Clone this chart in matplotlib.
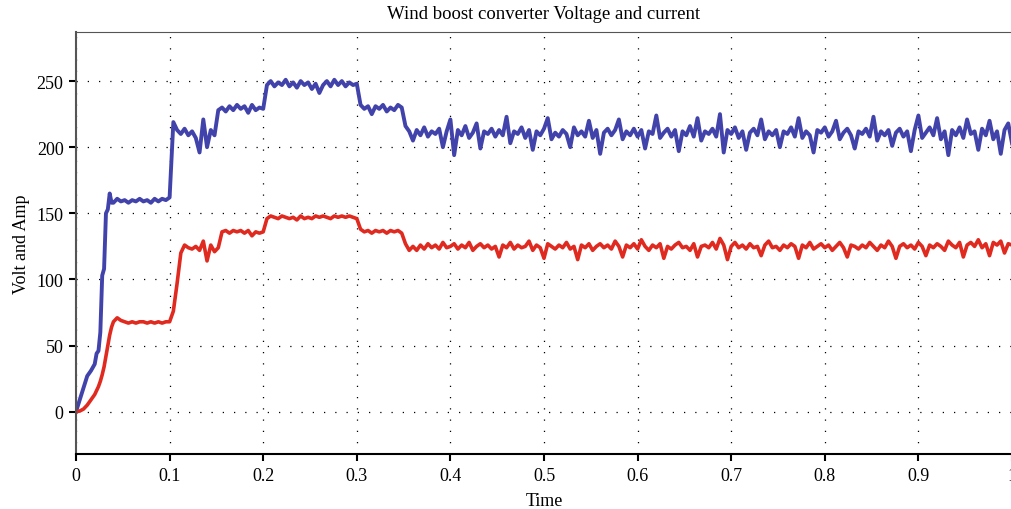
import numpy as np
import matplotlib
matplotlib.use('Agg')
import matplotlib.pyplot as plt

# start-up transient, sampled finely
t_start = [0, 0.004, 0.008, 0.012, 0.016, 0.020, 0.022, 0.024, 0.026, 0.028,
           0.030, 0.032, 0.034, 0.036, 0.038]
volt_start = [0, 9, 18, 27, 31, 36, 44, 46, 60, 103, 108, 150, 153, 165, 158]
amp_start = [0, 0.5, 2, 5, 9, 13, 16, 19, 23, 28, 34, 42, 50, 58, 64]

# 0.040 .. 0.356 every 0.004 (step changes)
volt_steps = [158, 161, 159, 160, 158, 160, 159, 161, 159, 160, 158, 161, 159, 161, 160,
              162, 219, 213, 210, 214, 209, 212, 207, 196, 221, 200, 213, 209,
              228, 230, 227, 231, 228, 232, 229, 231, 226, 232, 228, 230, 229,
              247, 250, 246, 249, 247, 251, 246, 249, 245, 250, 247, 249, 244, 248,
              241, 247, 250, 246, 251, 247, 250, 246, 249, 247, 248,
              232, 229, 231, 225, 231, 229, 232, 227, 230, 228, 232, 230, 216, 212]
amp_steps = [68, 71, 69, 68, 67, 68, 67, 68, 68, 67, 68, 67, 68, 67, 68,
             68, 76, 97, 120, 126, 124, 123, 125, 122, 129, 114, 126, 121,
             124, 136, 137, 135, 137, 136, 137, 135, 137, 133, 136, 135, 136,
             146, 148, 147, 146, 148, 147, 146, 147, 145, 148, 146, 147, 146, 148,
             147, 148, 147, 146, 148, 147, 148, 147, 148, 147, 146,
             138, 136, 137, 135, 137, 136, 137, 135, 137, 136, 137, 135, 127, 122]

# 0.360 .. 1.000 every 0.004 (steady state)
volt_steady = [205, 213, 209, 215, 208, 212, 210, 214, 200, 212,
               221, 194, 213, 209, 216, 207, 211, 218, 199, 212,
               210, 214, 208, 213, 209, 223, 203, 212, 210, 215,
               207, 213, 198, 212, 209, 214, 222, 206, 211, 208,
               213, 210, 200, 215, 209, 212, 208, 220, 207, 213,
               195, 211, 214, 209, 213, 221, 206, 212, 209, 214,
               208, 213, 199, 212, 210, 224, 207, 211, 214, 208,
               213, 197, 212, 209, 216, 208, 222, 205, 212, 210,
               214, 208, 225, 196, 213, 210, 215, 207, 212, 198,
               211, 214, 209, 221, 206, 212, 209, 213, 200, 212,
               210, 215, 208, 222, 207, 212, 209, 196, 213, 211,
               215, 208, 212, 220, 206, 211, 214, 209, 199, 212,
               210, 214, 208, 223, 205, 212, 209, 213, 201, 211,
               214, 208, 212, 197, 213, 224, 207, 211, 215, 209,
               222, 206, 212, 194, 213, 209, 215, 207, 221, 210,
               212, 198, 214, 209, 220, 206, 212, 195, 213, 218, 203]
amp_steady = [125, 122, 126, 123, 127, 124, 126, 123, 128, 124,
              125, 127, 123, 126, 124, 128, 122, 125, 127, 124,
              126, 123, 125, 117, 126, 124, 128, 123, 126, 124,
              125, 129, 122, 126, 124, 116, 127, 125, 123, 126,
              124, 128, 123, 125, 115, 126, 124, 127, 122, 125,
              127, 124, 126, 123, 129, 125, 117, 126, 124, 127,
              123, 130, 125, 122, 126, 124, 127, 116, 125, 123,
              126, 128, 124, 125, 122, 127, 117, 125, 126, 124,
              128, 123, 131, 126, 115, 125, 128, 124, 126, 123,
              127, 124, 125, 118, 126, 129, 124, 125, 122, 126,
              124, 127, 125, 116, 126, 124, 128, 123, 125, 127,
              124, 126, 122, 125, 128, 124, 117, 126, 125, 123,
              126, 124, 128, 125, 122, 126, 124, 129, 125, 116,
              125, 127, 124, 126, 123, 128, 125, 118, 126, 124,
              127, 125, 122, 129, 126, 124, 128, 117, 126, 128,
              125, 130, 124, 127, 118, 128, 126, 129, 120, 127, 126]

t_grid = 0.040 + 0.004 * np.arange(len(volt_steps) + len(volt_steady))
t = np.concatenate([t_start, t_grid])
volt = np.concatenate([volt_start, volt_steps, volt_steady])
amp = np.concatenate([amp_start, amp_steps, amp_steady])

plt.rcParams['font.family'] = ['Liberation Serif', 'DejaVu Serif']
fig = plt.figure(figsize=(10.12, 5.10), dpi=100)
ax = fig.add_axes([0.0751, 0.1078, 0.9249, 0.8272])

ax.plot(t, volt, color='#4143ab', lw=2.8, solid_joinstyle='round')
ax.plot(t, amp, color='#e02a1f', lw=2.6, solid_joinstyle='round')

ax.set_xlim(0, 1)
ax.set_ylim(-32, 287)
ax.set_xticks(np.arange(0, 1.01, 0.1))
ax.set_xticklabels(['0', '0.1', '0.2', '0.3', '0.4', '0.5', '0.6', '0.7', '0.8', '0.9', '1'])
ax.set_yticks([0, 50, 100, 150, 200, 250])
ax.grid(True, color='black', linestyle=(0, (1, 8)), linewidth=0.9)
ax.tick_params(direction='out', length=5, width=1.5, color='black',
               labelsize=13, pad=4)
ax.spines['left'].set_color('#555555')
ax.spines['left'].set_linewidth(1.5)
ax.spines['bottom'].set_color('black')
ax.spines['bottom'].set_linewidth(1.5)
ax.spines['top'].set_color('#555555')
ax.spines['top'].set_linewidth(0.8)
ax.spines['right'].set_visible(False)

ax.set_title('Wind boost converter Voltage and current', fontsize=13.5, pad=10)
ax.set_xlabel('Time', fontsize=13, labelpad=6)
ax.set_ylabel('Volt and Amp', fontsize=13, labelpad=5)

fig.savefig('out.png', dpi=100)
